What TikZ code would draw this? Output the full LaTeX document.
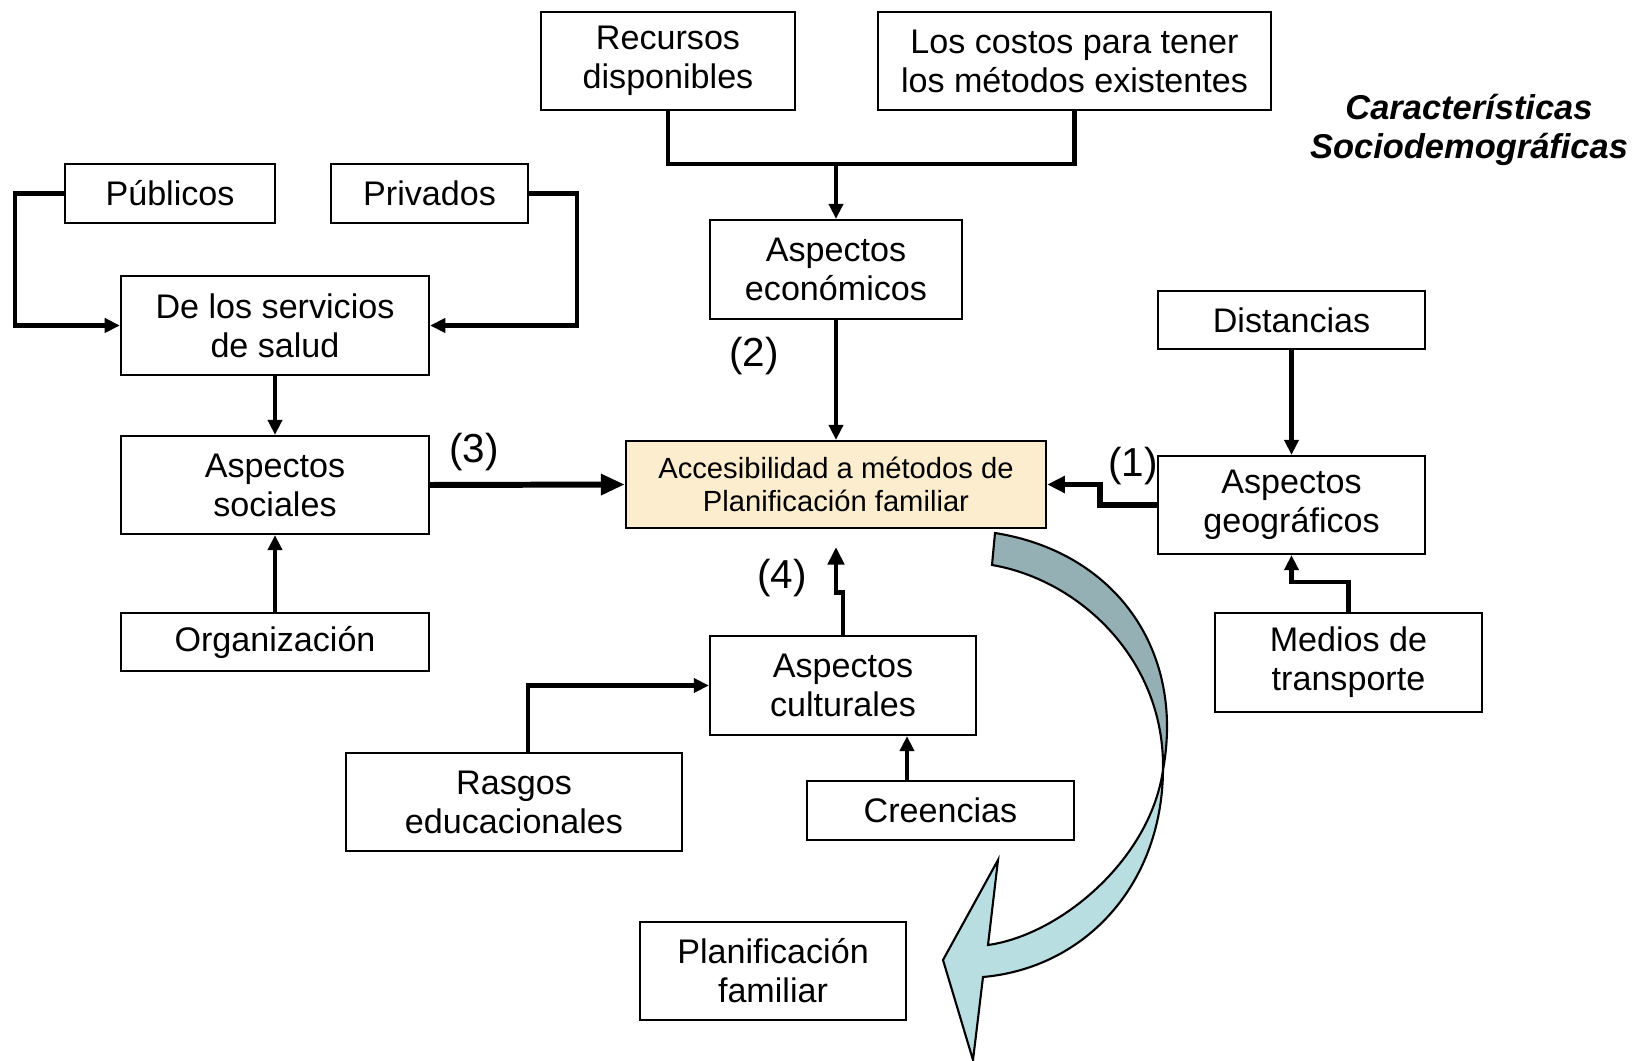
\documentclass[tikz,border=0pt]{standalone}
\usepackage{fontspec}
\setmainfont{Liberation Sans}
\usetikzlibrary{arrows.meta}

\definecolor{accfill}{RGB}{253,237,207}
\definecolor{darkband}{RGB}{149,176,180}
\definecolor{lightband}{RGB}{184,222,226}

\begin{document}
\begin{tikzpicture}[x=0.01cm, y=-0.01cm,
    caja/.style={draw, line width=0.6pt, align=center, inner sep=0pt,
        font=\fontsize{9.7}{11.1}\selectfont},
    conn/.style={line width=1.2pt},
    flecha/.style={conn, -{Triangle[length=4.3pt,width=4pt]}},
    etiqueta/.style={font=\fontsize{11.5}{13}\selectfont}]

    % Frame of the whole picture
    \useasboundingbox (0,0) rectangle (1642,1061);

    % Boxes
    \node[caja, minimum width=2.54cm, minimum height=0.98cm] (recursos) at (668,61) {Recursos\\disponibles};
    \node[caja, minimum width=3.93cm, minimum height=0.98cm] (costos) at (1074.5,61) {Los costos para tener\\los métodos existentes};
    \node[caja, minimum width=2.10cm, minimum height=0.59cm] (publicos) at (170,193.5) {Públicos};
    \node[caja, minimum width=1.97cm, minimum height=0.59cm] (privados) at (429.5,193.5) {Privados};
    \node[caja, minimum width=3.08cm, minimum height=0.99cm] (servicios) at (275,325.5) {De los servicios\\de salud};
    \node[caja, minimum width=2.52cm, minimum height=0.99cm] (economicos) at (836,269.5) {Aspectos\\económicos};
    \node[caja, minimum width=2.67cm, minimum height=0.58cm] (distancias) at (1291.5,320) {Distancias};
    \node[caja, minimum width=3.08cm, minimum height=0.98cm] (sociales) at (275,485) {Aspectos\\sociales};
    \node[caja, fill=accfill, minimum width=4.20cm, minimum height=0.87cm,
        font=\fontsize{8.3}{9.3}\selectfont] (acceso) at (836,484.5) {Accesibilidad a métodos de\\Planificación familiar};
    \node[caja, minimum width=2.67cm, minimum height=0.98cm] (geograficos) at (1291.5,505) {Aspectos\\geográficos};
    \node[caja, minimum width=3.08cm, minimum height=0.58cm] (organizacion) at (275,642) {Organización};
    \node[caja, minimum width=2.67cm, minimum height=0.99cm] (transporte) at (1348.5,662.5) {Medios de\\transporte};
    \node[caja, minimum width=2.66cm, minimum height=0.99cm] (culturales) at (843,685.5) {Aspectos\\culturales};
    \node[caja, minimum width=3.36cm, minimum height=0.98cm] (rasgos) at (514,802) {Rasgos\\educacionales};
    \node[caja, minimum width=2.67cm, minimum height=0.59cm] (creencias) at (940.5,810.5) {Creencias};
    \node[caja, minimum width=2.66cm, minimum height=0.98cm] (planificacion) at (773,971) {Planificación\\familiar};

    % Title
    \node[font=\fontsize{9.8}{11.1}\selectfont\bfseries\itshape, align=center] (titulo) at (1469,130) {Características\\Sociodemográficas};

    % Economic branch
    \coordinate (fork) at (836,164);
    \draw[conn] (recursos.south) |- (fork) -| (costos.south);
    \draw[flecha] (fork) -- (economicos.north);
    \draw[flecha] (economicos.south) -- (acceso.north);

    % Social branch
    \draw[flecha] (publicos.west) -- ++(-49,0) |- (servicios.west);
    \draw[flecha] (privados.east) -- ++(48,0) |- (servicios.east);
    \draw[flecha] (servicios.south) -- (sociales.north);
    \draw[flecha] (organizacion.north) -- (sociales.south);
    \draw[line width=1.7pt, -{Triangle[length=6.8pt,width=5.7pt]}] (sociales.east) -- (acceso.west);

    % Geographic branch
    \draw[flecha] (distancias.south) -- (geograficos.north);
    \draw[flecha] (transporte.north) -- ++(0,-30) -| (geograficos.south);
    \draw[line width=1.5pt, -{Triangle[length=5pt,width=4.6pt]}] (geograficos.west) -- ++(-57,0) |- (acceso.east);

    % Cultural branch
    \draw[flecha] ([xshift=0.14cm]rasgos.north) |- (culturales.west);
    \draw[flecha] ([xshift=-0.335cm]creencias.north) -- ([xshift=-0.335cm]creencias.north |- culturales.south);
    \draw[line width=1.4pt, -{Triangle[length=5pt,width=4.6pt]}] (culturales.north) -- ++(0,-42) -| ([yshift=-0.18cm]acceso.south);

    % Numbers
    \node[etiqueta] (n1) at (1133,466) {(1)};
    \node[etiqueta] (n2) at (754,356) {(2)};
    \node[etiqueta] (n3) at (474,452) {(3)};
    \node[etiqueta] (n4) at (782,578) {(4)};

    % Curved block arrow
    \coordinate (A) at (995,533);
    \coordinate (B) at (992,565);
    \coordinate (X) at (1163,770);
    \coordinate (C) at (983,977);
    \coordinate (T) at (973,1060);
    \coordinate (L) at (943,960);
    \coordinate (U) at (998,860);
    \coordinate (D) at (988,945);
    \draw[line width=0.6pt, fill=lightband] (X) .. controls (1162,885) and (1085,968) .. (C)
        -- (T) -- (L) -- (U) -- (D) .. controls (1060,935) and (1150,860) .. (X) -- cycle;
    \draw[line width=0.6pt, fill=darkband] (A) .. controls (1115,552) and (1185,650) .. (X)
        .. controls (1165,660) and (1080,580) .. (B) -- cycle;
\end{tikzpicture}
\end{document}
